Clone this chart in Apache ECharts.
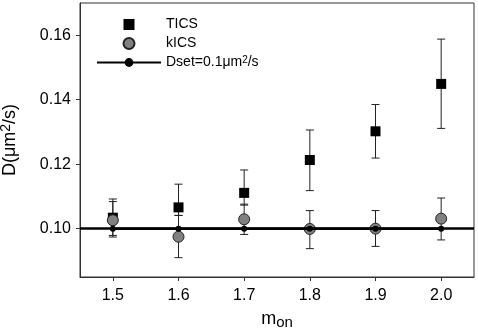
<!DOCTYPE html>
<html>
<head>
<meta charset="UTF-8">
<title>D vs m_on</title>
<script src="https://cdn.jsdelivr.net/npm/echarts@6/dist/echarts.min.js"></script>
<style>
body{margin:0;background:#fff;}
#chart{width:478px;height:333px;}
</style>
</head>
<body>
<div id="chart"></div>
<script type="text/javascript">
// x values (m_on)
var mOn=[1.5,1.6,1.7,1.8,1.9,2.0];
// TICS
var ticsD=[0.1034,0.1066,0.1111,0.1213,0.1302,0.1449];
var ticsLow=[0.0974,0.1041,0.1073,0.1118,0.1219,0.1311];
var ticsHigh=[0.1092,0.1138,0.1182,0.1306,0.1385,0.1588];
// kICS
var kicsD=[0.1026,0.0975,0.1029,0.0999,0.1000,0.1031];
var kicsLow=[0.0979,0.0910,0.0982,0.0938,0.0945,0.0965];
var kicsHigh=[0.1084,0.1041,0.1076,0.1056,0.1056,0.1095];
// Dset
var dset=[0.1,0.1,0.1,0.1,0.1,0.1];
var yTicks=[0.10,0.12,0.14,0.16];
var xTicks=[1.5,1.6,1.7,1.8,1.9,2.0];

function pairs(ys){
	var out=[];
	for(var i=0;i<mOn.length;i++){out.push([mOn[i],ys[i]]);}
	return out;
}
function bars(lo,hi){
	var out=[];
	for(var i=0;i<mOn.length;i++){out.push([mOn[i],lo[i],hi[i]]);}
	return out;
}
// vertical error bar with caps
function errRender(params,api){
	var x=api.value(0);
	var top=api.coord([x,api.value(2)]);
	var bot=api.coord([x,api.value(1)]);
	var w=4;
	var st={stroke:'#222',lineWidth:1};
	return {type:'group',children:[
		{type:'line',shape:{x1:top[0],y1:top[1],x2:bot[0],y2:bot[1]},style:st},
		{type:'line',shape:{x1:top[0]-w,y1:top[1],x2:top[0]+w,y2:top[1]},style:st},
		{type:'line',shape:{x1:bot[0]-w,y1:bot[1],x2:bot[0]+w,y2:bot[1]},style:st}
	]};
}

var mychart=echarts.init(document.getElementById('chart'));
var font='Liberation Sans, Arial, sans-serif';
var option={
	backgroundColor:'#fff',
	animation:false,
	textStyle:{fontFamily:font},
	grid:{left:80,top:3,right:4,bottom:56,show:true,borderColor:'#333',borderWidth:1,
		outerBoundsMode:'none',containLabel:false},
	legend:{
		orient:'vertical',
		left:91,top:12,
		itemWidth:64,itemHeight:11,itemGap:4,
		textStyle:{fontFamily:font,fontSize:14,lineHeight:15,color:'#000',
			rich:{sup:{fontSize:10,lineHeight:10,verticalAlign:'top',padding:[0,0,5,0],color:'#000'}}},
		formatter:function(name){
			if(name=='Dset')return 'Dset=0.1\u03bcm{sup|2}/s';
			return name;
		},
		data:[
			{name:'TICS',icon:'path://M0,0L10,0L10,10L0,10Z'},
			{name:'kICS'},
			{name:'Dset'}
		]
	},
	xAxis:{
		type:'value',min:1.45,max:2.05,
		name:'m{sub|on}',nameLocation:'middle',nameGap:31,
		nameTextStyle:{fontSize:18,color:'#000',fontFamily:font,
			rich:{sub:{fontSize:15,padding:[7,0,0,0],color:'#000',fontFamily:font}}},
		axisLine:{lineStyle:{color:'#333'}},
		axisTick:{customValues:xTicks,length:4,inside:false,lineStyle:{color:'#333'}},
		axisLabel:{customValues:xTicks,fontSize:16,color:'#000',margin:11,
			formatter:function(v){return v.toFixed(1);}},
		splitLine:{show:false}
	},
	yAxis:{
		type:'value',min:0.085,max:0.17,
		name:'D(\u03bcm{sup|2}/s)',nameLocation:'middle',nameGap:58,
		nameTextStyle:{fontSize:18,color:'#000',fontFamily:font,
			rich:{sup:{fontSize:14,padding:[0,0,9,0],color:'#000',fontFamily:font}}},
		axisLine:{lineStyle:{color:'#333'}},
		axisTick:{customValues:yTicks,length:4,lineStyle:{color:'#333'}},
		axisLabel:{customValues:yTicks,fontSize:16,color:'#000',margin:9,
			formatter:function(v){return v.toFixed(2);}},
		splitLine:{show:false}
	},
	series:[
		{name:'TICS err',type:'custom',renderItem:errRender,data:bars(ticsLow,ticsHigh),z:1},
		{name:'kICS err',type:'custom',renderItem:errRender,data:bars(kicsLow,kicsHigh),z:1},
		{
			name:'TICS',type:'scatter',symbol:'rect',symbolSize:10,
			itemStyle:{color:'#000',opacity:1},data:pairs(ticsD),z:3
		},
		{
			name:'kICS',type:'scatter',symbol:'circle',symbolSize:11,
			itemStyle:{color:'#808080',borderColor:'#222',borderWidth:1,opacity:1},data:pairs(kicsD),z:4
		},
		{
			name:'Dset',type:'line',symbol:'circle',symbolSize:6,
			itemStyle:{color:'#000'},lineStyle:{color:'#000',width:2.5},
			data:pairs(dset),z:5,
			markLine:{silent:true,symbol:'none',label:{show:false},
				lineStyle:{color:'#000',width:2.5,type:'solid'},
				data:[{yAxis:0.1}]}
		}
	]
};
mychart.setOption(option);
</script>
</body>
</html>
